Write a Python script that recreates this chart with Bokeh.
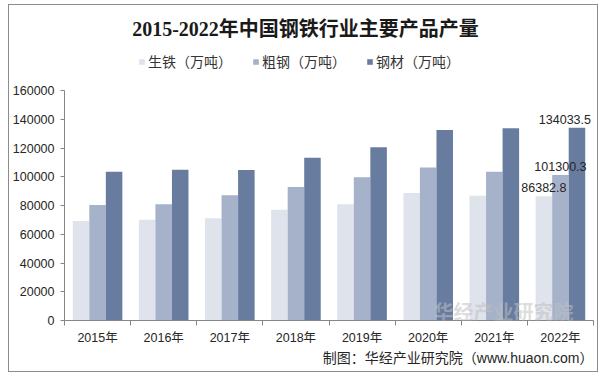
from bokeh.plotting import figure
from bokeh.models import (Range1d, FixedTicker, Legend, LegendItem, Label, Title,
                          ColumnDataSource, BasicTickFormatter)
from bokeh.transform import dodge
from bokeh.core.properties import value
from bokeh.embed import file_html
from bokeh.resources import INLINE

# ---- data ----
years = ["2015年", "2016年", "2017年", "2018年", "2019年", "2020年", "2021年", "2022年"]
pig_iron = [69141, 70074, 71076, 77105, 80937, 88752, 86857, 86382.8]
crude_steel = [80383, 80837, 87074, 92826, 99634, 106477, 103524, 101300.3]
steel_products = [103468, 104813, 104642, 113287, 120457, 132489, 133667, 134033.5]
series_names = ["生铁（万吨）", "粗钢（万吨）", "钢材（万吨）"]
colors = ["#dfe3ec", "#a6b2ca", "#687ca0"]
y_ticks = [0, 20000, 40000, 60000, 80000, 100000, 120000, 140000, 160000]
title_text = "2015-2022年中国钢铁行业主要产品产量"
source_text = "制图：华经产业研究院（www.huaon.com）"

SANS = "Liberation Sans, Noto Sans CJK SC"
AXIS_C = "#868686"

# layout (canvas pixels)
W, H = 590, 368
FRAME_L, FRAME_R, FRAME_B = 54, 584, 315      # frame edges
AXIS_TOP = 85                                   # where the value axis ends (top tick)
frame_h = FRAME_B                               # frame starts at canvas top
plot_h = FRAME_B - AXIS_TOP
y_end = y_ticks[-1] * frame_h / plot_h          # extra head-room holds title + legend

pos = [i + 0.5 for i in range(len(years))]
src = ColumnDataSource(dict(x=pos, pig=pig_iron, crude=crude_steel, steel=steel_products))

p = figure(width=W, height=H, output_backend="svg", toolbar_location=None,
           x_range=Range1d(0, len(years)), y_range=Range1d(y_ticks[0], y_end),
           min_border_left=FRAME_L, min_border_right=W - FRAME_R,
           min_border_top=0, min_border_bottom=H - FRAME_B)
p.styles = {"margin-left": "8px", "margin-top": "4px", "border": "1px solid #8c8c8c"}
p.outline_line_color = None
p.xgrid.visible = False
p.ygrid.visible = False
p.background_fill_color = "white"
p.border_fill_color = "white"

bw = 0.25
renderers = []
for off, field, col in zip([-bw, 0, bw], ["pig", "crude", "steel"], colors):
    r = p.vbar(x=dodge("x", off), top=field, width=bw, source=src,
               fill_color=col, line_color=None)
    renderers.append(r)

# data labels for the last year
last = len(years) - 1
label_style = dict(text_font=value("Liberation Sans"), text_font_size="12.5px",
                   text_color="#262626", text_baseline="bottom", y_offset=-4)
p.text(x=[pos[last] - bw], y=[pig_iron[last]], text=[str(pig_iron[last])],
       text_align="center", **label_style)
p.text(x=[pos[last]], y=[crude_steel[last]], text=[str(crude_steel[last])],
       text_align="center", **label_style)
p.text(x=[pos[last] + bw], y=[steel_products[last]], text=[str(steel_products[last])],
       text_align="right", x_offset=14, **label_style)

# y axis
ya = p.yaxis[0]
ya.ticker = FixedTicker(ticks=y_ticks)
ya.bounds = (y_ticks[0], y_ticks[-1])
ya.formatter = BasicTickFormatter(use_scientific=False)
ya.axis_line_color = AXIS_C
ya.major_tick_line_color = AXIS_C
ya.major_tick_out = 4
ya.major_tick_in = 0
ya.minor_tick_line_color = None
ya.major_label_standoff = 6
ya.major_label_text_font = SANS
ya.major_label_text_font_size = "12.5px"
ya.major_label_text_color = "#262626"

# x axis
xa = p.xaxis[0]
xa.ticker = FixedTicker(ticks=pos, minor_ticks=list(range(len(years) + 1)))
xa.major_label_overrides = {t: y for t, y in zip(pos, years)}
xa.axis_line_color = AXIS_C
xa.major_tick_line_color = None
xa.major_tick_out = 0
xa.major_tick_in = 0
xa.minor_tick_line_color = AXIS_C
xa.minor_tick_out = 5
xa.minor_tick_in = 0
xa.major_label_standoff = 5
xa.major_label_text_font = SANS
xa.major_label_text_font_size = "12.5px"
xa.major_label_text_color = "#262626"

# legend (inside the frame's head-room)
legend = Legend(items=[LegendItem(label=n, renderers=[r]) for n, r in zip(series_names, renderers)],
                orientation="horizontal", location=(74, 249), padding=0, margin=0,
                spacing=20, glyph_width=7, glyph_height=7, label_standoff=3,
                label_text_font="Noto Sans CJK SC", label_text_font_size="14px",
                label_text_color="#333333", background_fill_alpha=0,
                border_line_color=None)
p.add_layout(legend, "center")

# title
p.add_layout(Label(x=241, y=292, x_units="screen", y_units="screen", text=title_text,
                   text_align="center", text_baseline="middle",
                   text_font="Liberation Serif, Noto Sans CJK SC", text_font_style="bold",
                   text_font_size="20px", text_color="#1a1a1a"))

# source note (below the x axis)
p.add_layout(Title(text=source_text, align="right", offset=0, standoff=0,
                   text_font=SANS, text_font_style="normal",
                   text_font_size="14px", text_color="#262626"), "below")

# watermark
p.add_layout(Label(x=439, y=9, x_units="screen", y_units="screen", text="华经产业研究院",
                   text_align="center", text_baseline="middle",
                   text_font="Noto Sans CJK SC", text_font_style="bold",
                   text_font_size="20px", text_color="#c0c0c0", text_alpha=0.55))

open("out.html", "w").write(file_html(p, INLINE))
